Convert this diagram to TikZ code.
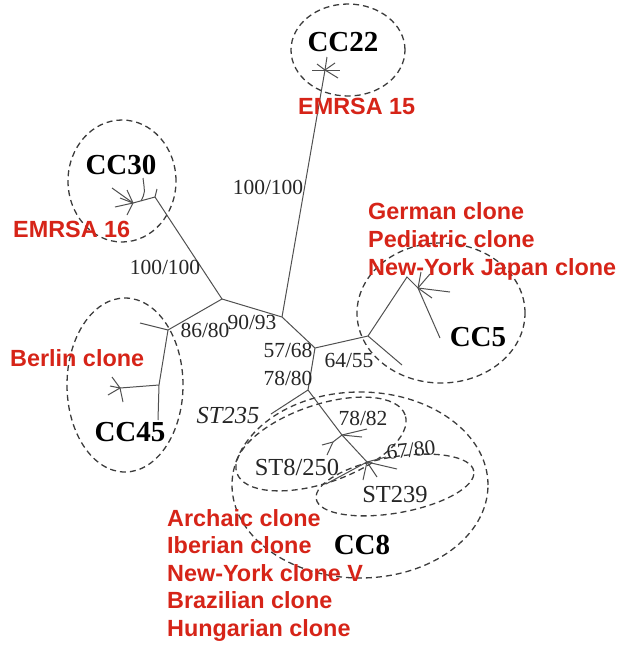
\documentclass[tikz,border=0pt]{standalone}
\usepackage{fontspec}
\setmainfont{Liberation Serif}
\newfontfamily\redsans{Liberation Sans}
\definecolor{cloneRed}{RGB}{214,36,24}
\definecolor{treeGray}{RGB}{80,80,80}
\definecolor{dashGray}{RGB}{60,60,60}
\begin{document}
\begin{tikzpicture}[x=1pt,y=-1pt,
  tree/.style={draw=treeGray, line width=1pt},
  group/.style={draw=dashGray, line width=1.3pt, dash pattern=on 6pt off 4pt},
  num/.style={font=\fontsize{21.5}{25}\selectfont, inner sep=0, text=black!85},
  cc/.style={font=\fontsize{29}{33}\selectfont\bfseries, inner sep=0},
  st/.style={font=\fontsize{24.5}{28}\selectfont, inner sep=0, text=black!85},
  clone/.style={font=\redsans\bfseries\fontsize{23.4}{27}\selectfont, text=cloneRed, inner sep=0, anchor=base west}]
\useasboundingbox (0,0) rectangle (619,646);

% tree coordinates
\coordinate (s22) at (325,70);
\coordinate (j2) at (282,317);
\coordinate (b30) at (155,197);
\coordinate (t30) at (157,189);
\coordinate (s30) at (133,203);
\coordinate (c30) at (141,201);
\coordinate (j1) at (222,299);
\coordinate (j45) at (168,330);
\coordinate (t45) at (140,323);
\coordinate (b45) at (159,385);
\coordinate (e45) at (158,420);
\coordinate (s45) at (120,388);
\coordinate (j3) at (315,348);
\coordinate (j5) at (368,336);
\coordinate (t5) at (402,365);
\coordinate (a5) at (407,277);
\coordinate (s5) at (418,288);
\coordinate (e5) at (440,338);
\coordinate (j4) at (308,390);
\coordinate (e235) at (271,414);
\coordinate (j6) at (342,435);
\coordinate (l6) at (333,442);
\coordinate (j7) at (367,462);
\coordinate (e8) at (326,484);

% group ellipses
\draw[group] (348,50) ellipse [x radius=57pt, y radius=46pt];
\draw[group] (122,181) ellipse [x radius=54pt, y radius=61pt];
\draw[group] (125,385) ellipse [x radius=58pt, y radius=87pt];
\draw[group] (441,313) ellipse [x radius=84pt, y radius=70pt];
\draw[group] (360,485) ellipse [x radius=128pt, y radius=93pt];
\draw[group, rotate around={19:(321,444)}] (321,444) ellipse [x radius=89pt, y radius=39pt];
\draw[group, rotate around={10:(395,485)}] (395,485) ellipse [x radius=80pt, y radius=28pt];

% main edges
\draw[tree] (s22) -- (j2);
\draw[tree] (t30) -- (b30) -- (j1);
\draw[tree] (b30) -- (s30);
\draw[tree] (c30) .. controls (145,193) .. (143,178);
\draw[tree] (j1) -- (j2);
\draw[tree] (j1) -- (j45);
\draw[tree] (t45) -- (j45) -- (b45) -- (e45);
\draw[tree] (b45) -- (s45);
\draw[tree] (j2) -- (j3) -- (j5);
\draw[tree] (j5) -- (t5);
\draw[tree] (j5) -- (a5) -- (s5) -- (e5);
\draw[tree] (j3) -- (j4) -- (e235);
\draw[tree] (j4) -- (j6) -- (j7) -- (e8);
\draw[tree] (j6) -- (367,429);
\draw[tree] (j6) -- (362,437);
\draw[tree] (j6) -- (l6) -- (322,445);
\draw[tree] (l6) -- (327,455);

% stars
\foreach \p in {(312,70),(327,57),(335,63),(340,70),(338,78),(317,64)}
  \draw[tree] (s22) -- \p;
\foreach \p in {(112,188),(127,190),(115,207),(127,215),(120,198)}
  \draw[tree] (s30) -- \p;
\foreach \p in {(112,377),(108,395),(123,402),(110,386)}
  \draw[tree] (s45) -- \p;
\foreach \p in {(450,292),(430,274),(421,272),(432,298)}
  \draw[tree] (s5) -- \p;
\foreach \p in {(397,469),(377,477),(363,480),(386,457)}
  \draw[tree] (j7) -- \p;

% bootstrap values
\node[num] (n1) at (268,187) {100/100};
\node[num] (n2) at (165,267) {100/100};
\node[num] (n3) at (205,330) {86/80};
\node[num] (n4) at (252,322) {90/93};
\node[num] (n5) at (288,350) {57/68};
\node[num] (n6) at (288,378) {78/80};
\node[num] (n7) at (349,360) {64/55};
\node[num] (n8) at (363,418) {78/82};
\node[num, rotate=6] (n9) at (411,450) {67/80};

% complex labels
\node[cc] (cc22) at (343,42) {CC22};
\node[cc] (cc30) at (121,165) {CC30};
\node[cc] (cc45) at (130,432) {CC45};
\node[cc] (cc5) at (478,337) {CC5};
\node[cc] (cc8) at (362,545) {CC8};
\node[st] (st8) at (297,467) {ST8/250};
\node[st] (st239) at (395,495) {ST239};
\node[st, font=\fontsize{24.5}{28}\selectfont\itshape] (st235) at (228,416) {ST235};

% clone names
\node[clone] (em15) at (298,114) {EMRSA 15};
\node[clone] (em16) at (13,237) {EMRSA 16};
\node[clone] (berlin) at (10,366) {Berlin clone};
\node[clone] (german) at (368,219) {German clone};
\node[clone] (pediatric) at (368,247) {Pediatric clone};
\node[clone] (nyj) at (368,275) {New-York Japan clone};
\node[clone] (archaic) at (167,526) {Archaic clone};
\node[clone] (iberian) at (167,553.5) {Iberian clone};
\node[clone] (nyv) at (167,581) {New-York clone V};
\node[clone] (brazil) at (167,608.5) {Brazilian clone};
\node[clone] (hungary) at (167,636) {Hungarian clone};
\end{tikzpicture}
\end{document}
